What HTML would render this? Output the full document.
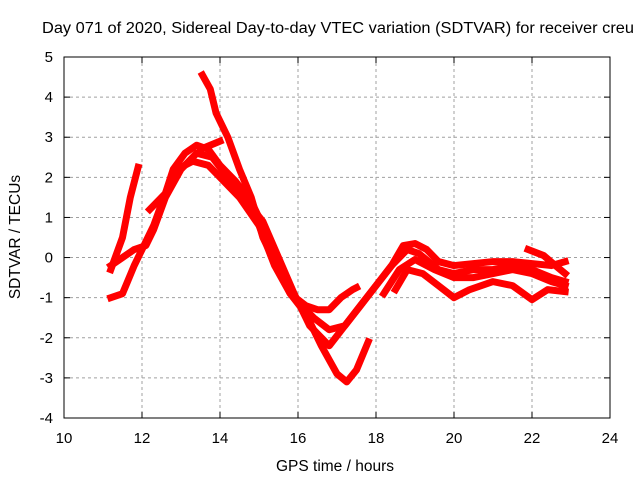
<!DOCTYPE html>
<html><head><meta charset="utf-8"><style>
body{margin:0;background:#fff}
svg{display:block;font-family:"Liberation Sans",sans-serif}
</style></head><body>
<svg id="chart" width="640" height="480">
<text x="42" y="33" font-size="15.5" textLength="592" lengthAdjust="spacingAndGlyphs">Day 071 of 2020, Sidereal Day-to-day VTEC variation (SDTVAR) for receiver creu</text>
<text x="335" y="471" font-size="15.5" text-anchor="middle">GPS time / hours</text>
<text x="20" y="237" font-size="15.5" text-anchor="middle" transform="rotate(-90 20 237)">SDTVAR / TECUs</text>
<g id="grid"></g><g id="data"></g>
<rect x="64" y="57" width="546" height="361" fill="none" stroke="#000" stroke-width="1"/>
</svg>
<script>
const xTicks=[10,12,14,16,18,20,22,24];
const yTicks=[5,4,3,2,1,0,-1,-2,-3,-4];
const trackA_x=[11.2,11.5,11.7,11.9];
const trackA_y=[-0.3,0.5,1.5,2.25];
const trackB_x=[11.2,11.5,11.8,12.0,12.3,12.6,12.9,13.3,13.7,14.0,14.5,15.0,15.4,15.8,16.2,16.6,17.0,17.25,17.5,17.8];
const trackB_y=[-1.0,-0.9,-0.2,0.2,0.8,1.6,2.2,2.4,2.3,2.0,1.5,0.8,-0.2,-0.9,-1.4,-2.2,-2.9,-3.1,-2.8,-2.1];
const trackC_x=[11.2,11.5,11.8,12.1,12.3,12.6,13.0,13.4,13.8,14.2,14.6,15.1,15.5,15.9,16.3,16.8,17.2,17.6,18.0,18.4,18.8,19.1,19.6,20.0,20.5,21.0,21.5,22.0,22.5,22.85];
const trackC_y=[-0.2,0,0.2,0.3,0.7,1.5,2.2,2.6,2.5,2.0,1.5,0.9,0,-0.9,-1.7,-2.2,-1.7,-1.2,-0.7,-0.2,0.2,0.1,-0.3,-0.4,-0.3,-0.3,-0.2,-0.3,-0.5,-0.6];
const trackD_x=[13.55,13.75,13.9,14.2,14.5,14.8,15.1,15.5,15.8,16.2,16.5,16.8,17.1,17.4,17.5];
const trackD_y=[4.55,4.2,3.6,3.0,2.2,1.5,0.5,-0.3,-0.9,-1.2,-1.3,-1.3,-1.0,-0.8,-0.75];
const trackE_x=[12.2,12.4,12.6,12.8,13.1,13.4,13.7,14.0,14.4,14.8,15.2,15.6,16.0,16.4,16.8,17.2,17.6,18.0,18.4,18.7,19.0,19.3,19.6,20.0,20.5,21.0,21.5,22.0,22.5,22.85];
const trackE_y=[1.2,1.4,1.6,2.2,2.6,2.8,2.7,2.3,1.9,1.4,0.6,-0.5,-1.1,-1.5,-1.8,-1.7,-1.2,-0.7,-0.2,0.3,0.35,0.2,-0.1,-0.2,-0.15,-0.1,-0.1,-0.15,-0.2,-0.1];
const trackF_x=[18.5,18.8,19.2,19.6,20.0,20.4,21.0,21.5,22.0,22.4,22.85];
const trackF_y=[-0.8,-0.3,-0.4,-0.7,-1.0,-0.8,-0.6,-0.7,-1.05,-0.8,-0.85];
const trackG_x=[18.2,18.6,19.0,19.5,20.0,20.5,21.0,21.5,22.0,22.5,22.85];
const trackG_y=[-0.9,-0.3,-0.05,-0.3,-0.5,-0.5,-0.4,-0.3,-0.4,-0.6,-0.7];
const trackH_x=[21.9,22.3,22.6,22.85];
const trackH_y=[0.2,0.05,-0.2,-0.4];
const trackI_x=[13.5,14.0];
const trackI_y=[2.7,2.9];
const tracks=[[trackA_x,trackA_y],[trackB_x,trackB_y],[trackC_x,trackC_y],[trackD_x,trackD_y],[trackE_x,trackE_y],[trackF_x,trackF_y],[trackG_x,trackG_y],[trackH_x,trackH_y],[trackI_x,trackI_y]];
const NS="http://www.w3.org/2000/svg";
function sx(v){return 64+(v-10)*(546/14);}
function sy(v){return 57+(5-v)*(361/9);}
const grid=document.getElementById('grid'),data=document.getElementById('data');
function mk(tag,attrs,parent){const e=document.createElementNS(NS,tag);for(const k in attrs)e.setAttribute(k,attrs[k]);parent.appendChild(e);return e;}
xTicks.forEach(t=>{const x=sx(t);
 if(t>10&&t<24){const l=mk('line',{x1:x,x2:x,y1:57,y2:418,stroke:'#a0a0a0','stroke-dasharray':'3,3'},grid);
 
 }
 mk('line',{x1:x,x2:x,y1:418,y2:412,stroke:'#000'},grid);mk('line',{x1:x,x2:x,y1:57,y2:63,stroke:'#000'},grid);
 const tx=mk('text',{x:x,y:443,'font-size':15,'text-anchor':'middle'},grid);tx.textContent=t;
 
 });
yTicks.forEach(t=>{const y=sy(t);
 if(t<5&&t>-4){const l=mk('line',{x1:64,x2:610,y1:y,y2:y,stroke:'#a0a0a0','stroke-dasharray':'3,3'},grid);
 
 }
 mk('line',{x1:64,x2:70,y1:y,y2:y,stroke:'#000'},grid);mk('line',{x1:604,x2:610,y1:y,y2:y,stroke:'#000'},grid);
 const tx=mk('text',{x:53,y:y+5,'font-size':15,'text-anchor':'end'},grid);tx.textContent=t;
 
 });
tracks.forEach(([xs,ys],i)=>{const pts=xs.map((v,j)=>sx(v)+','+sy(ys[j])).join(' ');
 const p=mk('polyline',{points:pts,fill:'none',stroke:'#ff0000','stroke-width':7,'stroke-linejoin':'round','stroke-linecap':'square'},data);
 
 });
</script>
</body></html>
